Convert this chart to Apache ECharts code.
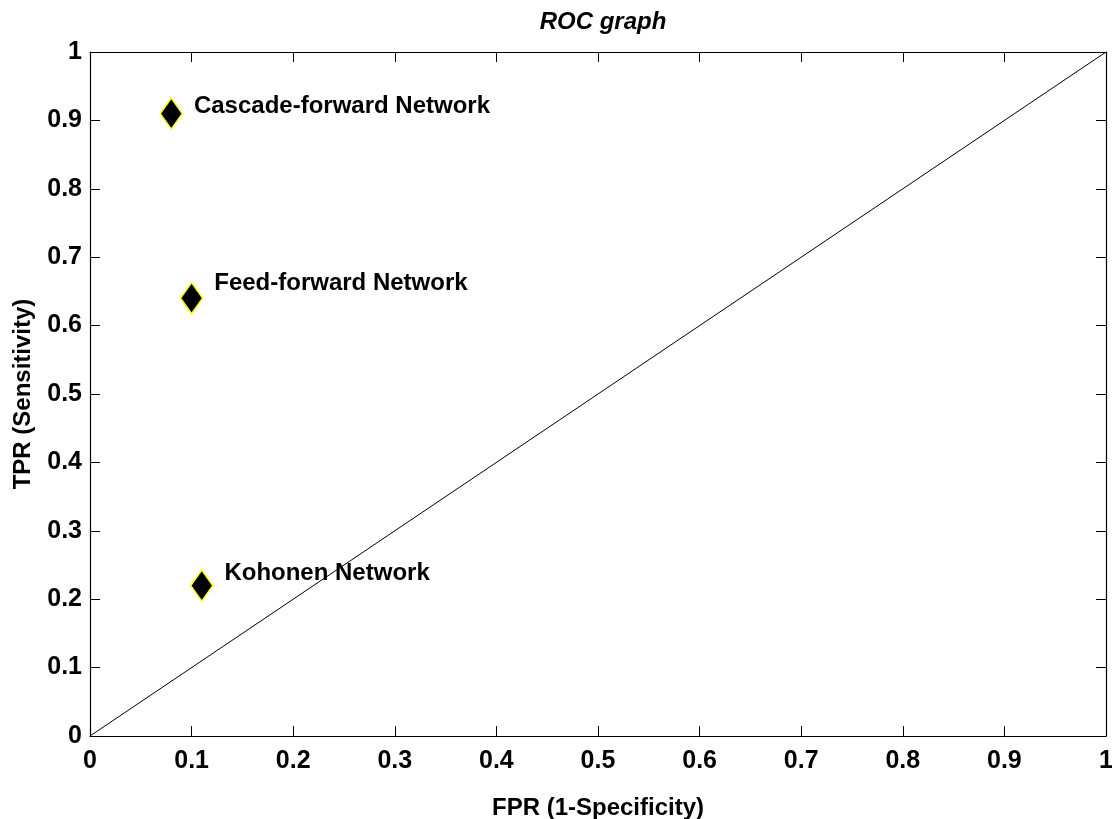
<!DOCTYPE html>
<html>
<head>
<meta charset="utf-8">
<title>ROC graph</title>
<script src="https://cdn.jsdelivr.net/npm/echarts@6/dist/echarts.min.js"></script>
<style>
  html, body { margin: 0; padding: 0; background: #fff; }
  #roc { width: 1112px; height: 819px; }
</style>
</head>
<body>
<div id="roc"></div>
<script>
// classifier points
var networks = ['Cascade-forward Network', 'Feed-forward Network', 'Kohonen Network'];
var fpr = [0.08, 0.10, 0.11];
var tpr = [0.91, 0.64, 0.22];
// chance line
var diagX = [0, 1];
var diagY = [0, 1];
var tickLabels = ['0', '0.1', '0.2', '0.3', '0.4', '0.5', '0.6', '0.7', '0.8', '0.9', '1'];

// how far each label sits above its marker (px)
var labelRaise = [-7, -15, -12];

var font = 'Arial, "Liberation Sans", sans-serif';

var chart = echarts.init(document.getElementById('roc'));

function fmt(v) {
    var i = Math.round(v * 10);
    return tickLabels[i] != null ? tickLabels[i] : '';
}

var boxAxis = {
    min: 0,
    max: 1,
    interval: 0.1,
    axisLine: { show: true, onZero: false, lineStyle: { color: '#000', width: 1.2 } },
    axisTick: { show: true, inside: true, length: 10, lineStyle: { color: '#000', width: 1 } },
    axisLabel: { show: false },
    splitLine: { show: false }
};

chart.setOption({
    animation: false,
    backgroundColor: '#fff',
    title: {
        text: 'ROC graph',
        left: 598,
        textAlign: 'center',
        top: 5,
        textStyle: { fontFamily: font, fontSize: 24, fontWeight: 'bold', fontStyle: 'italic', color: '#000' }
    },
    grid: { left: 90, top: 52, right: 6, bottom: 83, outerBoundsMode: 'none', containLabel: false },
    xAxis: [
        Object.assign({}, boxAxis, {
            type: 'value',
            position: 'bottom',
            name: 'FPR (1-Specificity)',
            nameLocation: 'middle',
            nameGap: 60,
            nameTextStyle: { fontFamily: font, fontSize: 24, fontWeight: 'bold', color: '#000' },
            axisLabel: {
                show: true, margin: 13, formatter: fmt,
                fontFamily: font, fontSize: 25, fontWeight: 'bold', color: '#000'
            }
        }),
        Object.assign({}, boxAxis, { type: 'value', position: 'top' })
    ],
    yAxis: [
        Object.assign({}, boxAxis, {
            type: 'value',
            position: 'left',
            name: 'TPR (Sensitivity)',
            nameLocation: 'middle',
            nameGap: 55,
            nameTextStyle: { fontFamily: font, fontSize: 24, fontWeight: 'bold', color: '#000' },
            axisLabel: {
                show: true, margin: 8, formatter: fmt,
                fontFamily: font, fontSize: 25, fontWeight: 'bold', color: '#000'
            }
        }),
        Object.assign({}, boxAxis, { type: 'value', position: 'right' })
    ],
    series: [
        {
            name: 'chance',
            type: 'line',
            xAxisIndex: 0,
            yAxisIndex: 0,
            data: diagX.map(function (x, i) { return [x, diagY[i]]; }),
            showSymbol: false,
            lineStyle: { color: '#000', width: 1 },
            z: 1
        },
        {
            name: 'networks',
            type: 'scatter',
            xAxisIndex: 0,
            yAxisIndex: 0,
            symbol: 'diamond',
            symbolSize: [22, 31],
            itemStyle: { color: '#000', opacity: 1, borderColor: '#ffff00', borderWidth: 1.5 },
            data: networks.map(function (n, i) {
                return {
                    name: n,
                    value: [fpr[i], tpr[i]],
                    label: { offset: [0, labelRaise[i]] }
                };
            }),
            label: {
                show: true,
                position: 'right',
                distance: 11,
                formatter: '{b}',
                fontFamily: font,
                fontSize: 24,
                fontWeight: 'bold',
                color: '#000'
            },
            z: 3
        }
    ]
});
</script>
</body>
</html>
